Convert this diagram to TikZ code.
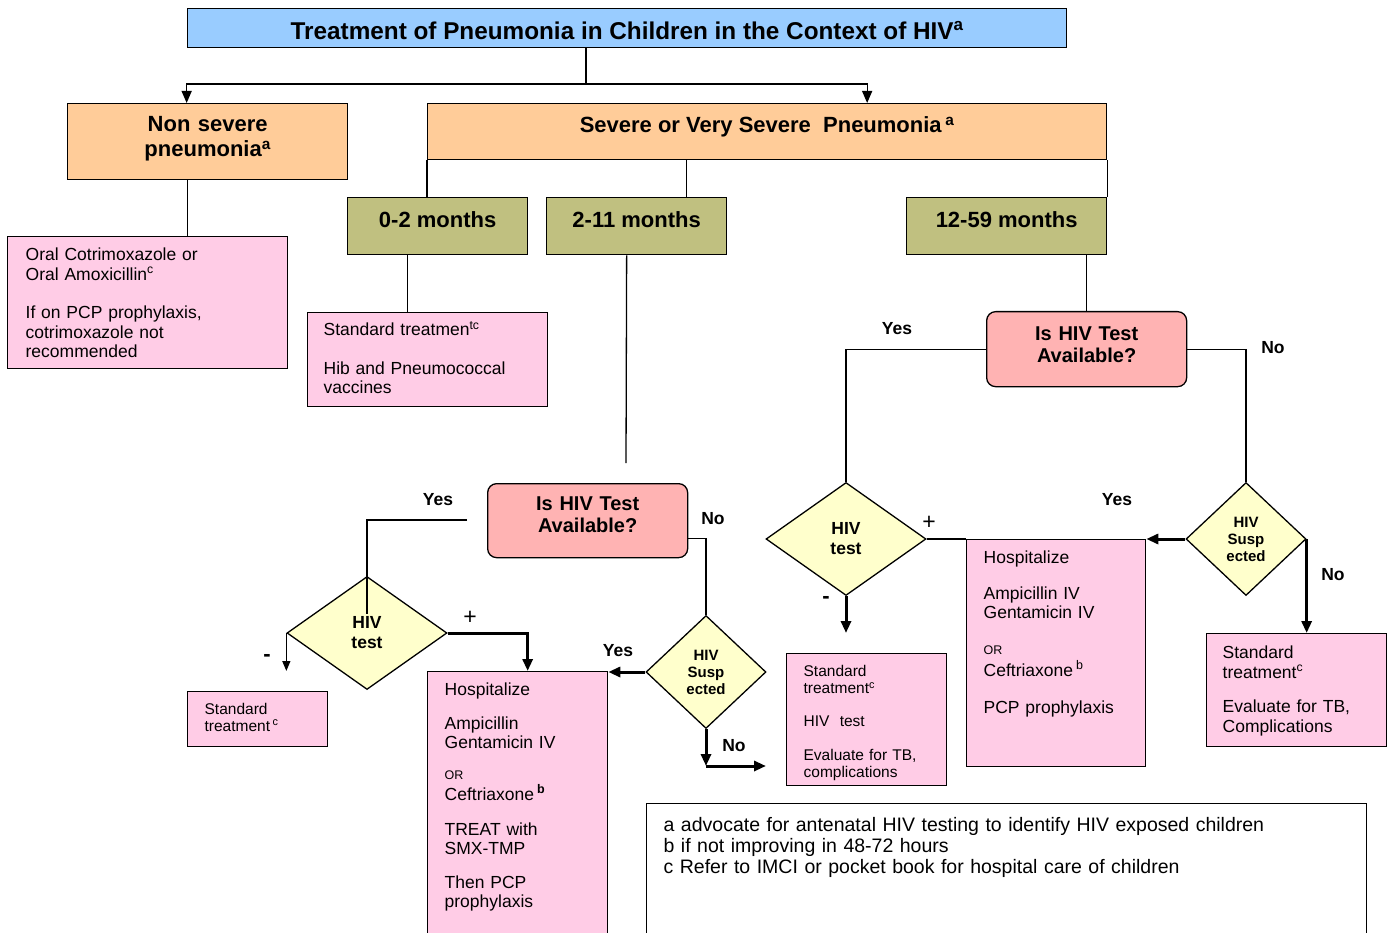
\documentclass[tikz,border=0pt]{standalone}
\usepackage{fontspec}
\setmainfont{Liberation Sans}
\usepackage{tikz}
\usetikzlibrary{arrows.meta,shapes.geometric}
\definecolor{titlebg}{RGB}{153,204,255}
\definecolor{peachbg}{RGB}{255,204,153}
\definecolor{agebg}{RGB}{192,192,128}
\definecolor{pinkbg}{RGB}{255,204,230}
\definecolor{askbg}{RGB}{255,179,179}
\definecolor{testbg}{RGB}{255,255,204}
\tikzset{
    %Define standard arrow tip
    >={Triangle[length=12pt,width=10pt]},
    %Define style for boxes
    headbox/.style={
           rectangle,
           draw=black, line width=1.3pt,
           fill=peachbg,
           anchor=north west,
           inner xsep=10pt, inner ysep=0pt,
           align=center,
           font=\fontsize{22}{25}\selectfont\bfseries},
    titlebox/.style={
           headbox,
           fill=titlebg,
           font=\fontsize{24.3}{26}\selectfont\bfseries},
    agebox/.style={
           headbox,
           fill=agebg,
           minimum width=180pt,
           text height=30pt, text depth=27pt},
    pinkbox/.style={
           rectangle,
           draw=black, line width=1.3pt,
           fill=pinkbg,
           anchor=north west,
           inner xsep=17pt, inner ysep=0pt,
           align=left,
           font=\fontsize{17.5}{19.5}\selectfont},
    notebox/.style={
           pinkbox,
           fill=white,
           font=\fontsize{19.5}{21}\selectfont},
    askbox/.style={
           rectangle,
           rounded corners=9pt,
           draw=black, line width=1.3pt,
           fill=askbg,
           anchor=north west,
           inner xsep=10pt, inner ysep=0pt,
           text width=180pt,
           align=center,
           font=\fontsize{20}{22}\selectfont\bfseries},
    testdiamond/.style={
           diamond,
           draw=black, line width=1.3pt,
           fill=testbg,
           minimum width=160pt, minimum height=113pt,
           inner sep=0pt,
           text width=40pt, align=center,
           font=\fontsize{17.5}{20}\selectfont\bfseries},
    suspdiamond/.style={
           testdiamond,
           minimum width=120pt,
           text width=50pt,
           font=\fontsize{15}{17}\selectfont\bfseries},
    lbl/.style={
           font=\fontsize{17.5}{20}\selectfont\bfseries},
    sign/.style={
           font=\fontsize{23}{23}\selectfont},
    % Define arrow style
    thickarrow/.style={
           ->,
           line width=3pt},
}
\newcommand{\smallor}{{\fontsize{12.5}{12}\selectfont OR}}

\begin{document}
\begin{tikzpicture}[x=1pt, y=-1pt, line width=1.3pt]
\useasboundingbox (0,0) rectangle (1392,933);
 %nodes
\node[titlebox, minimum width=879pt, text height=30.5pt, text depth=8.5pt] (title) at (187,8)
    {Treatment of Pneumonia in Children in the Context of HIV\textsuperscript{a}};
\node[headbox, text width=260pt, text height=28pt, text depth=48pt] (nonsev) at (67,103)
    {Non severe\\pneumonia\textsuperscript{a}};
\node[headbox, minimum width=679pt, text height=29pt, text depth=27pt] (severe) at (427,103)
    {Severe or Very Severe\ \ Pneumonia\,\textsuperscript{a}};
\node[agebox] (age1) at (347,197) {0-2 months};
\node[agebox] (age2) at (546,197) {2-11 months};
\node[agebox, minimum width=200pt] (age3) at (906,197) {12-59 months};

\node[pinkbox, inner xsep=18pt, text width=244pt, text height=24pt, text depth=108pt] (oral) at (7,236)
    {Oral Cotrimoxazole or\\Oral Amoxicillin\textsuperscript{c}\\[19pt]If on PCP prophylaxis,\\cotrimoxazole not\\recommended};
\node[pinkbox, inner xsep=16pt, text width=208pt, text height=23pt, text depth=71pt] (std1) at (307,312)
    {Standard treatmen\textsuperscript{tc}\\[19pt]Hib and Pneumococcal\\vaccines};

\node[askbox, text height=27pt, text depth=47pt] (ishiv1) at (487,483) {Is HIV Test\\Available?};
\node[askbox, text height=29pt, text depth=46pt] (ishiv2) at (986,311) {Is HIV Test\\Available?};

\node[testdiamond] (test1) at (367,633) {HIV\\test};
\node[suspdiamond] (susp1) at (706,672) {HIV\\Susp\\ected};
\node[testdiamond] (test2) at (846,539) {HIV\\test};
\node[suspdiamond] (susp2) at (1246,539) {HIV\\Susp\\ected};

\node[pinkbox, font=\fontsize{15.5}{16.5}\selectfont, text width=106pt, text height=23pt, text depth=32pt] (stdneg1) at (187,691)
    {Standard\\treatment\,\textsuperscript{c}};
\node[pinkbox, text width=146pt, text height=24pt, text depth=250pt] (hosp1) at (427,671)
    {Hospitalize\\[14pt]Ampicillin\\Gentamicin IV\\[11pt]\smallor\\[2pt]Ceftriaxone\,\raisebox{7pt}{\fontsize{12.5}{12}\selectfont\bfseries b}\\[15pt]TREAT with\\SMX-TMP\\[14pt]Then PCP\\prophylaxis};
\node[pinkbox, font=\fontsize{15.5}{17}\selectfont, text width=126pt, text height=23pt, text depth=109pt] (stdneg2) at (786,653)
    {Standard\\treatment\textsuperscript{c}\\[16pt]HIV\ \ test\\[17pt]Evaluate for TB,\\complications};
\node[pinkbox, text width=145pt, text height=24pt, text depth=203pt] (hosp2) at (966,539)
    {Hospitalize\\[16pt]Ampicillin IV\\Gentamicin IV\\[16pt]\smallor\\[3pt]Ceftriaxone\,\raisebox{7pt}{\fontsize{12.5}{12}\selectfont b}\\[17pt]PCP prophylaxis};
\node[pinkbox, inner xsep=16pt, text width=148pt, text height=25pt, text depth=88pt] (stdno2) at (1206,633)
    {Standard\\treatment\textsuperscript{c}\\[15pt]Evaluate for TB,\\Complications};
\node[notebox, text width=686pt, text height=28pt, text depth=140pt] (notes) at (646,803)
    {a advocate for antenatal HIV testing to identify HIV exposed children\\b if not improving in 48-72 hours\\c Refer to IMCI or pocket book for hospital care of children};

 %labels
\node[lbl] (yes1) at (438,500) {Yes};
\node[lbl] (no1) at (713,519) {No};
\node[sign] (pos1) at (470,618) {+};
\node[lbl, font=\fontsize{22}{22}\selectfont\bfseries] (neg1) at (267,658) {-};
\node[lbl] (yes2) at (618,651) {Yes};
\node[lbl] (no2) at (734,746) {No};
\node[lbl] (yes3) at (897,329) {Yes};
\node[lbl] (no3) at (1273,348) {No};
\node[sign] (pos2) at (929,523) {+};
\node[lbl, font=\fontsize{22}{22}\selectfont\bfseries] (neg2) at (826,600) {-};
\node[lbl] (yes4) at (1117,500) {Yes};
\node[lbl] (no4) at (1333,575) {No};

\coordinate (split) at (586,84);
\coordinate (gap1) at (626,463);
\coordinate (yesstart1) at (467,520);
\coordinate (yesend1) at (367,614);
\coordinate (noturn1) at (706,766);
\coordinate (noend1) at (766,766);
\coordinate (negend2) at (846,633);

 %connectors
\draw (title.south -| split) -- (split);
\draw[->] (split) -| ([xshift=-21pt]nonsev.north);
\draw[->] (split) -| ([xshift=100pt]severe.north);
\draw ([xshift=-20pt]nonsev.south) -- ([xshift=-20pt]nonsev.south |- oral.north);
\draw (severe.south west) -- (severe.south west |- age1.north);
\draw ([xshift=50pt]age2.north) -- ([xshift=50pt]age2.north |- severe.south);
\draw (severe.south east) -- (age3.north east);
\draw ([xshift=-30pt]age1.south) -- ([xshift=-30pt]age1.south |- std1.north);
\draw ([xshift=-10pt]age2.south) -- (gap1);
\draw (age3.south -| ishiv2.north) -- (ishiv2.north);

\draw (yesstart1) -| (yesend1);
\draw ([yshift=-18pt]ishiv1.east) -| (susp1.north);
\draw[thickarrow] (test1.east) -| ([xshift=10pt]hosp1.north);
\draw[-{Triangle[length=10pt,width=8pt]}] (test1.west) -- (test1.west |- hosp1.north);
\draw[thickarrow] (susp1.west) -- (susp1.west -| hosp1.east);
\draw[thickarrow] (susp1.south) -- (noturn1);
\draw[thickarrow] (noturn1) -- (noend1);

\draw (ishiv2.west) -| (test2.north);
\draw (ishiv2.east) -| (susp2.north);
\draw (test2.east) -- (hosp2.north west);
\draw[thickarrow] (test2.south) -- (negend2);
\draw[thickarrow] (susp2.west) -- (hosp2.north east);
\draw[thickarrow] (susp2.east) -- (susp2.east |- stdno2.north);
\end{tikzpicture}
\end{document}
